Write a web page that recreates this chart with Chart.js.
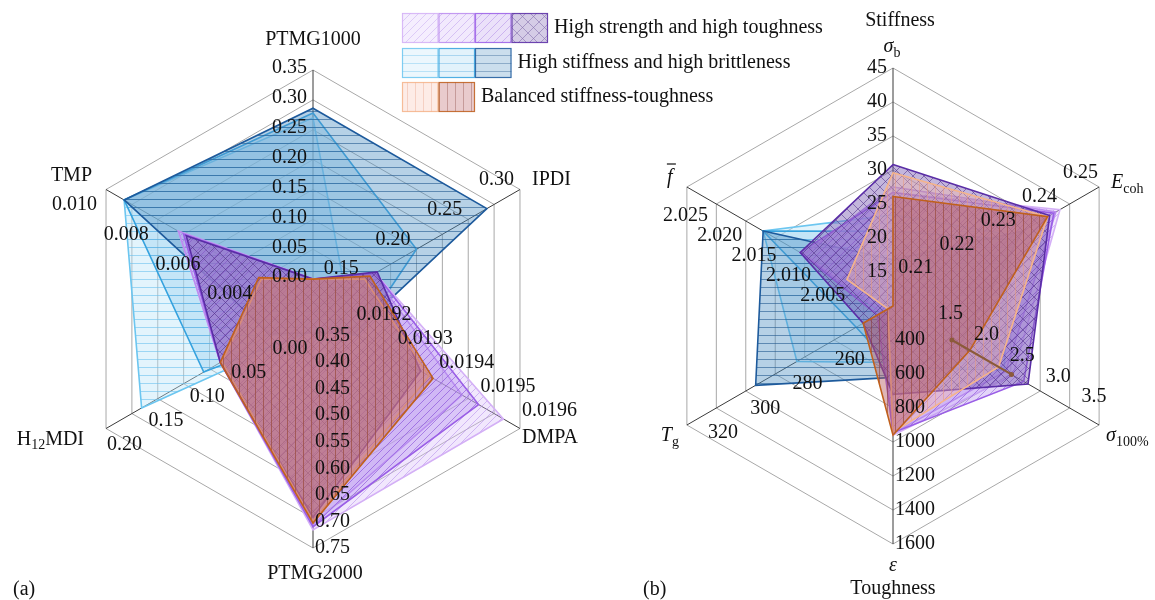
<!DOCTYPE html>
<html><head><meta charset="utf-8">
<script src="https://cdn.jsdelivr.net/npm/chart.js@4.4.0/dist/chart.umd.min.js"></script>
<style>
html,body{margin:0;padding:0;background:#fff;}
#wrap{position:relative;width:1155px;height:600px;overflow:hidden;background:#fff;}
canvas{position:absolute;left:0;top:0;}
</style></head><body>
<div id="wrap"><canvas id="cA" width="1155" height="600"></canvas><canvas id="cB" width="1155" height="600"></canvas></div>
<script>
// ---------- Panel (a): composition ----------
const leftAxes = ['PTMG1000','IPDI','DMPA','PTMG2000','H12MDI','TMP'];
const leftMin  = [-0.05, 0.10, 0.0191, 0.30, -0.05, 0.002];
const leftMax  = [0.35, 0.30, 0.0196, 0.75, 0.20, 0.010];
const leftTicks = [
  [0.00,0.05,0.10,0.15,0.20,0.25,0.30,0.35],
  [0.15,0.20,0.25,0.30],
  [0.0192,0.0193,0.0194,0.0195,0.0196],
  [0.35,0.40,0.45,0.50,0.55,0.60,0.65,0.70,0.75],
  [0.00,0.05,0.10,0.15,0.20],
  [0.004,0.006,0.008,0.010]
];
const leftDecimals = [2,2,4,2,2,3];
const leftP1 = [0.000, 0.160, 0.01956, 0.716, 0.062, 0.0072];
const leftP2 = [0.000, 0.158, 0.01946, 0.706, 0.062, 0.0072];
const leftP3 = [0.000, 0.160, 0.01950, 0.710, 0.062, 0.0070];
const leftP4 = [0.000, 0.162, 0.01936, 0.692, 0.062, 0.0069];
const leftB1 = [0.270, 0.131, 0.01921, 0.340, 0.157, 0.0093];
const leftB2 = [0.278, 0.200, 0.01921, 0.340, 0.082, 0.0093];
const leftB3 = [0.286, 0.268, 0.01920, 0.345, 0.002, 0.0093];
const leftO1 = [0.000, 0.150, 0.01938, 0.700, 0.060, 0.0040];
const leftO2 = [0.000, 0.155, 0.01939, 0.703, 0.062, 0.0041];

// ---------- Panel (b): properties ----------
const rightAxes = ['σb','Ecoh','σ100%','ε','Tg','f̄'];
const rightMin  = [10, 0.20, 0.63, 200, 222.6, 1.995];
const rightMax  = [45, 0.25, 3.5, 1600, 320, 2.025];
const rightTicks = [
  [15,20,25,30,35,40,45],
  [0.21,0.22,0.23,0.24,0.25],
  [1.5,2.0,2.5,3.0,3.5],
  [400,600,800,1000,1200,1400,1600],
  [260,280,300,320],
  [2.005,2.010,2.015,2.020,2.025]
];
const rightDecimals = [0,2,1,0,0,3];
const rightP1 = [26.7, 0.2405, 2.30, 960, 226.0, 2.0085];
const rightP2 = [27.5, 0.2395, 2.20, 950, 228.0, 2.0080];
const rightP3 = [26.7, 0.2390, 2.45, 945, 230.0, 2.0085];
const rightP4 = [30.8, 0.2380, 2.51, 720, 236.7, 2.0085];
const rightB1 = [23.4, 0.2296, 2.01, 532, 268.0, 2.0139];
const rightB2 = [21.0, 0.2280, 2.18, 560, 240.0, 2.0139];
const rightB3 = [16.8, 0.2315, 1.56, 620, 287.5, 2.0139];
const rightO1 = [29.6, 0.2375, 2.10, 942, 225.0, 2.0017];
const rightO2 = [26.1, 0.2375, 1.70, 960, 236.7, 1.9950];
const balancedSigma100Span = [1.45, 2.28];

const groupLabels = ['High strength and high toughness','High stiffness and high brittleness','Balanced stiffness-toughness'];
const groupKeys = [['P1','P2','P3','P4'],['B1','B2','B3'],['O1','O2']];

// ---------- styles ----------
const FONT = '"Liberation Serif","Times New Roman",serif';
const styles = {
  P1:{bg:'rgba(215,185,248,0.35)', hatch:'rgba(180,140,235,0.55)', type:'/', border:'#d4b0f6'},
  P2:{bg:'rgba(200,165,245,0.35)', hatch:'rgba(165,120,230,0.55)', type:'/', border:'#bb8cef'},
  P3:{bg:'rgba(180,140,238,0.37)', hatch:'rgba(145,95,220,0.55)', type:'/', border:'#9a5ee6'},
  P4:{bg:'rgba(115,85,175,0.43)', hatch:'rgba(85,55,140,0.6)', type:'x', border:'#5a2da6'},
  B1:{bg:'rgba(185,228,248,0.40)', hatch:'rgba(110,195,240,0.6)', type:'-', border:'#6cc6f0'},
  B2:{bg:'rgba(150,208,240,0.40)', hatch:'rgba(80,170,225,0.6)', type:'-', border:'#35a2de'},
  B3:{bg:'rgba(80,145,195,0.42)', hatch:'rgba(35,90,145,0.6)', type:'-', border:'#1d5a9c'},
  O1:{bg:'rgba(246,185,165,0.38)', hatch:'rgba(232,155,125,0.55)', type:'|', border:'#f5b48a'},
  O2:{bg:'rgba(185,90,95,0.45)', hatch:'rgba(135,60,55,0.55)', type:'|', border:'#c0601c'}
};
function makePattern(st){
  const s = st.type==='x' ? 11 : 8;
  const c = document.createElement('canvas'); c.width = s; c.height = s;
  const g = c.getContext('2d');
  g.fillStyle = st.bg; g.fillRect(0,0,s,s);
  g.strokeStyle = st.hatch; g.lineWidth = 1;
  g.beginPath();
  if (st.type==='/' || st.type==='x'){
    g.moveTo(-1,s+1); g.lineTo(s+1,-1);
    g.moveTo(-2,2); g.lineTo(2,-2);
    g.moveTo(s-2,s+2); g.lineTo(s+2,s-2);
  }
  if (st.type==='x'){
    g.moveTo(-1,-1); g.lineTo(s+1,s+1);
    g.moveTo(s-2,-2); g.lineTo(s+2,2);
    g.moveTo(-2,s-2); g.lineTo(2,s+2);
  }
  if (st.type==='-'){ g.moveTo(0,s-0.5); g.lineTo(s,s-0.5); }
  if (st.type==='|'){ g.moveTo(s-0.5,0); g.lineTo(s-0.5,s); }
  g.stroke();
  return g.createPattern(c,'repeat');
}
const patterns = {};
Object.keys(styles).forEach(k => patterns[k] = makePattern(styles[k]));

function norm(vals, mins, maxs, N){ return vals.map((v,i)=> (v-mins[i])/(maxs[i]-mins[i])*N); }

const drawOrder = ['O2','O1','P4','P3','P2','P1','B3','B2','B1']; // first = on top
function buildDatasets(series, mins, maxs, N){
  return drawOrder.map((k, idx) => ({
    label: k,
    data: norm(series[k], mins, maxs, N),
    backgroundColor: patterns[k],
    borderColor: styles[k].border,
    borderWidth: 1.6,
    pointRadius: 0,
    fill: true,
    order: idx
  }));
}

function fontOf(p){ return (p.i?'italic ':'') + (p.s?14:20) + 'px ' + FONT; }
function richWidth(ctx, parts){ let w=0; parts.forEach(p=>{ ctx.font=fontOf(p); w+=ctx.measureText(p.t).width; }); return w; }
function drawRich(ctx, parts, x, y, align){
  const w = richWidth(ctx, parts);
  let cx = align==='center' ? x-w/2 : (align==='right' ? x-w : x);
  ctx.textAlign='left'; ctx.textBaseline='middle';
  parts.forEach(p=>{ ctx.font=fontOf(p); ctx.fillText(p.t, cx, y + (p.s?6:0)); cx += ctx.measureText(p.t).width; });
}

function drawTicks(chart, mins, maxs, ticks, decs, place, N){
  const s = chart.scales.r, ctx = chart.ctx;
  ctx.save(); ctx.fillStyle = '#111'; ctx.font = '20px ' + FONT; ctx.textBaseline = 'middle';
  ticks.forEach((arr,i)=>{
    const p = place[i];
    arr.forEach(v=>{
      const pt = s.getPointPositionForValue(i, (v-mins[i])/(maxs[i]-mins[i])*N);
      ctx.textAlign = p.align;
      ctx.fillText(v.toFixed(decs[i]), pt.x+p.dx, pt.y+p.dy);
    });
  });
  ctx.restore();
}

const leftTickPlace = [
  {align:'right', dx:-6, dy:-2},
  {align:'right', dx:-6, dy:-10},
  {align:'left',  dx:2,  dy:-18},
  {align:'left',  dx:2,  dy:0},
  {align:'left',  dx:1,  dy:16},
  {align:'right', dx:-9, dy:15}
];
const rightTickPlace = [
  {align:'right', dx:-6, dy:0},
  {align:'right', dx:-1, dy:-14},
  {align:'center',dx:-5, dy:-28},
  {align:'left',  dx:2,  dy:0},
  {align:'left',  dx:21, dy:8},
  {align:'right', dx:21, dy:29}
];

const leftNamePlace = [
  {parts:[{t:'PTMG1000'}], dx:0, dy:-30, align:'center'},
  {parts:[{t:'IPDI'}], dx:12, dy:-10, align:'left'},
  {parts:[{t:'DMPA'}], dx:2, dy:9, align:'left'},
  {parts:[{t:'PTMG2000'}], dx:2, dy:26, align:'center'},
  {parts:[{t:'H'},{t:'12',s:1},{t:'MDI'}], dx:-22, dy:11, align:'right'},
  {parts:[{t:'TMP'}], dx:-14, dy:-14, align:'right'}
];
const rightNamePlace = [
  {parts:[{t:'σ',i:1},{t:'b',s:1}], dx:-1, dy:-21, align:'center'},
  {parts:[{t:'E',i:1},{t:'coh',s:1}], dx:12, dy:-4, align:'left'},
  {parts:[{t:'σ',i:1},{t:'100%',s:1}], dx:7, dy:11, align:'left'},
  {parts:[{t:'ε',i:1}], dx:0, dy:22, align:'center'},
  {parts:[{t:'T',i:1},{t:'g',s:1}], dx:-8, dy:11, align:'right'},
  {parts:[{t:'f',i:1}], dx:-17, dy:-9, align:'center', bar:true}
];

function drawNames(chart, place, N){
  const s = chart.scales.r, ctx = chart.ctx;
  ctx.save(); ctx.fillStyle = '#111';
  place.forEach((p,i)=>{
    const v = s.getPointPositionForValue(i, N);
    drawRich(ctx, p.parts, v.x+p.dx, v.y+p.dy, p.align);
    if (p.bar){
      ctx.strokeStyle='#111'; ctx.lineWidth=1.2;
      ctx.beginPath(); ctx.moveTo(v.x+p.dx-3, v.y+p.dy-14); ctx.lineTo(v.x+p.dx+6, v.y+p.dy-14); ctx.stroke();
    }
  });
  ctx.restore();
}

function radarOptions(N, pad){
  return {
    responsive:false, animation:false, devicePixelRatio:1,
    layout:{padding:pad},
    plugins:{legend:{display:false}, tooltip:{enabled:false}},
    elements:{line:{tension:0}},
    scales:{ r:{
      min:0, max:N, startAngle:0,
      ticks:{display:false, stepSize:1},
      grid:{color:'#a8a8a8', lineWidth:1, circular:false},
      angleLines:{color:'#3a3a3a', lineWidth:1},
      pointLabels:{display:false}
    }}
  };
}

const N_L = 8, N_R = 7;
const leftSeries = {P1:leftP1,P2:leftP2,P3:leftP3,P4:leftP4,B1:leftB1,B2:leftB2,B3:leftB3,O1:leftO1,O2:leftO2};
const rightSeries = {P1:rightP1,P2:rightP2,P3:rightP3,P4:rightP4,B1:rightB1,B2:rightB2,B3:rightB3,O1:rightO1,O2:rightO2};

new Chart(document.getElementById('cA'), {
  type:'radar',
  data:{labels:leftAxes, datasets:buildDatasets(leftSeries, leftMin, leftMax, N_L)},
  options:radarOptions(N_L, {left:74, top:70, right:603, bottom:52}),
  plugins:[{id:'labelsA', afterDraw(chart){
    drawTicks(chart, leftMin, leftMax, leftTicks, leftDecimals, leftTickPlace, N_L);
    drawNames(chart, leftNamePlace, N_L);
    const ctx = chart.ctx; ctx.save(); ctx.fillStyle='#111';
    drawRich(ctx, [{t:'(a)'}], 13, 590, 'left'); ctx.restore();
  }}]
});

new Chart(document.getElementById('cB'), {
  type:'radar',
  data:{labels:rightAxes, datasets:buildDatasets(rightSeries, rightMin, rightMax, N_R)},
  options:radarOptions(N_R, {left:655, top:68, right:24, bottom:56}),
  plugins:[{id:'labelsB', afterDraw(chart){
    const s = chart.scales.r, ctx = chart.ctx;
    // balanced sigma100% span marker
    const a = s.getPointPositionForValue(2, (balancedSigma100Span[0]-rightMin[2])/(rightMax[2]-rightMin[2])*N_R);
    const b = s.getPointPositionForValue(2, (balancedSigma100Span[1]-rightMin[2])/(rightMax[2]-rightMin[2])*N_R);
    ctx.save(); ctx.strokeStyle='#8b5a3a'; ctx.lineWidth=2.2;
    ctx.beginPath(); ctx.moveTo(a.x,a.y); ctx.lineTo(b.x,b.y); ctx.stroke();
    ctx.fillStyle='#8b5a3a';
    [a,b].forEach(p=>{ctx.beginPath(); ctx.arc(p.x,p.y,2.5,0,Math.PI*2); ctx.fill();});
    ctx.restore();
    drawTicks(chart, rightMin, rightMax, rightTicks, rightDecimals, rightTickPlace, N_R);
    drawNames(chart, rightNamePlace, N_R);
    ctx.save(); ctx.fillStyle='#111';
    const top = s.getPointPositionForValue(0, N_R), bot = s.getPointPositionForValue(3, N_R);
    drawRich(ctx, [{t:'Stiffness'}], top.x+7, top.y-47, 'center');
    drawRich(ctx, [{t:'Toughness'}], bot.x, bot.y+45, 'center');
    drawRich(ctx, [{t:'(b)'}], 643, 590, 'left');
    // legend
    const x0 = 402, sw = 36.5, rowsY = [13, 48, 82], h = 30;
    groupKeys.forEach((keys, r)=>{
      keys.forEach((k, j)=>{
        const x = x0 + j*sw, y = rowsY[r];
        ctx.fillStyle = '#fff'; ctx.fillRect(x, y, sw, h);
        ctx.globalAlpha = 0.7;
        ctx.fillStyle = patterns[k]; ctx.fillRect(x, y, sw, h);
        ctx.globalAlpha = 0.85;
        ctx.strokeStyle = styles[k].border; ctx.lineWidth = 1.2; ctx.strokeRect(x+0.5, y+0.5, sw-1, h-1);
        ctx.globalAlpha = 1;
      });
      ctx.fillStyle='#111';
      drawRich(ctx, [{t:groupLabels[r]}], x0 + keys.length*sw + 6, rowsY[r] + h/2, 'left');
    });
    ctx.restore();
  }}]
});
</script></body></html>
